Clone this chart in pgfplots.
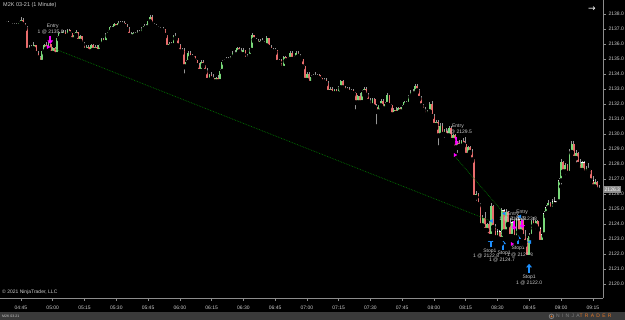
\documentclass[border=0pt]{standalone}
\usepackage{fontspec}
\setmainfont{Liberation Sans}
\newfontfamily\dejavu{DejaVu Sans}
\newfontfamily\logofont[LetterSpace=45]{Liberation Sans}
\usepackage{pgfplots}
\usepackage{pgfplotstable}
\pgfplotsset{compat=1.18}
\usetikzlibrary{arrows.meta}
\definecolor{upc}{RGB}{120,215,120}
\definecolor{dnc}{RGB}{232,108,108}
\definecolor{wickc}{RGB}{150,150,150}
\definecolor{axc}{RGB}{140,140,140}
\definecolor{txtc}{RGB}{205,205,205}
\definecolor{barc}{RGB}{58,58,58}
\definecolor{tradeg}{RGB}{0,120,0}
\definecolor{mag}{RGB}{255,0,255}
\definecolor{blu}{RGB}{30,144,255}
\definecolor{ntorange}{RGB}{230,120,40}
\pgfplotstableread{
o h l c
2137.4 2137.5 2137.3 2137.4
2137.4 2137.5 2137.3 2137.3
2137.3 2137.4 2137.2 2137.3
2137.3 2137.4 2137.2 2137.2
2137.2 2137.4 2137.2 2137.3
2137.3 2137.4 2137.1 2137.2
2137.2 2137.5 2137.2 2137.4
2137.4 2137.8 2137.1 2137.6
2137.6 2137.7 2137.2 2137.3
2137.3 2137.4 2137.0 2137.1
2137.1 2137.2 2135.5 2135.6
2135.6 2135.9 2135.5 2135.8
2135.8 2135.9 2135.6 2135.7
2135.7 2136.1 2135.6 2135.9
2135.9 2135.9 2135.3 2135.4
2135.4 2135.5 2135.0 2135.1
2135.1 2135.2 2134.7 2134.8
2134.8 2135.6 2134.7 2135.5
2135.5 2136.0 2135.4 2135.9
2135.9 2136.1 2135.6 2135.7
2135.7 2136.1 2135.6 2136.0
2136.0 2136.0 2135.3 2135.4
2135.4 2135.8 2135.2 2135.7
2135.7 2135.8 2135.1 2135.3
2135.3 2136.5 2135.3 2136.4
2136.4 2136.8 2136.3 2136.7
2136.7 2136.8 2136.5 2136.6
2136.6 2136.9 2136.5 2136.8
2136.8 2136.9 2136.4 2136.5
2136.5 2137.0 2136.5 2136.9
2136.9 2137.0 2136.6 2136.7
2136.7 2136.8 2136.2 2136.3
2136.3 2136.7 2136.2 2136.6
2136.6 2136.9 2136.5 2136.8
2136.8 2136.8 2136.1 2136.2
2136.2 2136.6 2136.1 2136.5
2136.5 2136.5 2135.9 2136.0
2136.0 2136.1 2135.5 2135.6
2135.6 2135.9 2135.5 2135.8
2135.8 2135.9 2135.4 2135.5
2135.5 2136.0 2135.4 2135.9
2135.9 2136.0 2135.5 2135.6
2135.6 2135.9 2135.5 2135.8
2135.8 2135.9 2135.4 2135.5
2135.5 2136.0 2135.5 2135.9
2135.9 2136.4 2135.8 2136.3
2136.3 2136.4 2136.0 2136.1
2136.1 2136.7 2136.1 2136.6
2136.6 2136.9 2136.5 2136.8
2136.8 2137.2 2136.7 2137.1
2137.1 2137.2 2136.9 2137.0
2137.0 2137.4 2137.0 2137.3
2137.3 2137.3 2137.0 2137.1
2137.1 2137.5 2137.1 2137.4
2137.4 2137.5 2137.2 2137.3
2137.3 2137.5 2137.2 2137.4
2137.4 2137.5 2137.1 2137.2
2137.2 2137.3 2136.9 2137.0
2137.0 2137.1 2136.5 2136.6
2136.6 2136.8 2136.4 2136.5
2136.5 2136.8 2136.4 2136.7
2136.7 2136.8 2136.5 2136.6
2136.6 2136.9 2136.5 2136.8
2136.8 2136.9 2136.6 2136.7
2136.7 2137.1 2136.6 2137.0
2137.0 2137.3 2136.9 2137.2
2137.2 2137.3 2137.0 2137.1
2137.1 2137.6 2137.0 2137.5
2137.5 2137.9 2137.3 2137.8
2137.8 2137.9 2137.2 2137.3
2137.3 2137.4 2137.1 2137.2
2137.2 2137.3 2137.0 2137.1
2137.1 2137.2 2136.9 2137.0
2137.0 2137.1 2136.8 2136.9
2136.9 2137.1 2136.8 2137.0
2137.0 2137.0 2136.5 2136.6
2136.6 2136.6 2135.7 2135.8
2135.8 2136.1 2135.7 2136.0
2136.0 2136.1 2135.8 2135.9
2135.9 2136.6 2135.8 2136.5
2136.5 2136.7 2136.3 2136.4
2136.4 2136.4 2135.8 2135.9
2135.9 2136.0 2135.4 2135.5
2135.5 2135.7 2135.4 2135.6
2135.6 2135.7 2133.9 2134.5
2134.5 2134.9 2134.4 2134.8
2134.8 2135.5 2134.7 2135.4
2135.4 2135.5 2135.0 2135.1
2135.1 2135.3 2134.8 2135.2
2135.2 2135.2 2134.8 2134.9
2134.9 2135.0 2134.5 2134.6
2134.6 2134.7 2134.1 2134.2
2134.2 2134.9 2134.1 2134.8
2134.8 2134.9 2134.5 2134.6
2134.6 2134.6 2134.1 2134.2
2134.2 2134.4 2133.5 2133.6
2133.6 2134.0 2133.5 2133.9
2133.9 2134.1 2133.6 2133.7
2133.7 2134.0 2133.3 2133.5
2133.5 2133.8 2133.3 2133.7
2133.7 2133.9 2133.4 2133.5
2133.5 2134.3 2133.5 2134.2
2134.2 2134.9 2134.1 2134.8
2134.8 2135.0 2134.7 2134.9
2134.9 2135.1 2134.8 2135.0
2135.0 2135.1 2134.8 2134.9
2134.9 2135.2 2134.8 2135.1
2135.1 2135.5 2135.0 2135.4
2135.4 2135.6 2135.2 2135.3
2135.3 2135.8 2135.2 2135.7
2135.7 2135.8 2135.4 2135.5
2135.5 2135.7 2135.2 2135.3
2135.3 2135.7 2135.3 2135.6
2135.6 2135.6 2134.9 2135.0
2135.0 2135.3 2134.8 2135.2
2135.2 2135.7 2135.1 2135.6
2135.6 2136.7 2135.5 2136.6
2136.6 2136.6 2136.2 2136.3
2136.3 2136.4 2136.1 2136.2
2136.2 2136.3 2135.9 2136.0
2136.0 2136.3 2135.9 2136.2
2136.2 2136.4 2136.0 2136.1
2136.1 2136.2 2135.8 2135.9
2135.9 2136.5 2135.8 2136.4
2136.4 2136.4 2135.7 2135.8
2135.8 2135.9 2135.5 2135.6
2135.6 2135.7 2135.4 2135.5
2135.5 2135.7 2135.4 2135.6
2135.6 2135.6 2134.7 2134.8
2134.8 2135.0 2134.6 2134.9
2134.9 2135.0 2134.3 2134.4
2134.4 2135.2 2134.3 2135.1
2135.1 2135.2 2134.8 2134.9
2134.9 2135.1 2134.7 2135.0
2135.0 2135.5 2134.9 2135.4
2135.4 2135.5 2134.9 2135.0
2135.0 2135.2 2134.8 2135.1
2135.1 2135.5 2135.0 2135.4
2135.4 2135.5 2135.1 2135.2
2135.2 2135.3 2134.9 2135.0
2135.0 2135.0 2134.4 2134.5
2134.5 2134.6 2133.5 2133.6
2133.6 2134.1 2133.5 2134.0
2134.0 2134.1 2133.3 2133.4
2133.4 2133.9 2133.3 2133.8
2133.8 2134.0 2133.6 2133.9
2133.9 2134.1 2133.7 2133.8
2133.8 2134.0 2133.7 2133.9
2133.9 2134.0 2133.6 2133.7
2133.7 2133.8 2133.4 2133.5
2133.5 2133.7 2133.4 2133.6
2133.6 2133.7 2133.3 2133.4
2133.4 2133.5 2132.7 2132.8
2132.8 2133.1 2132.6 2133.0
2133.0 2133.1 2132.6 2132.7
2132.7 2133.0 2132.6 2132.9
2132.9 2133.0 2132.6 2132.7
2132.7 2133.2 2132.6 2133.1
2133.1 2133.6 2133.0 2133.5
2133.5 2133.6 2133.0 2133.1
2133.1 2133.2 2132.8 2132.9
2132.9 2133.1 2132.8 2133.0
2133.0 2133.1 2132.7 2132.8
2132.8 2133.0 2132.7 2132.9
2132.9 2133.0 2132.6 2132.7
2132.7 2132.8 2131.5 2132.1
2132.1 2132.6 2132.0 2132.5
2132.5 2132.7 2132.0 2132.1
2132.1 2132.9 2132.1 2132.8
2132.8 2133.1 2132.6 2133.0
2133.0 2133.1 2132.5 2132.6
2132.6 2132.7 2132.1 2132.2
2132.2 2132.4 2131.8 2131.9
2131.9 2132.4 2131.8 2132.3
2132.3 2132.4 2131.7 2131.8
2131.8 2132.0 2130.5 2131.5
2131.5 2132.0 2131.4 2131.9
2131.9 2132.3 2131.8 2132.2
2132.2 2132.3 2131.6 2131.7
2131.7 2132.1 2131.6 2132.0
2132.0 2132.7 2131.9 2132.6
2132.6 2132.6 2131.8 2131.9
2131.9 2132.0 2131.1 2131.3
2131.3 2131.7 2131.1 2131.6
2131.6 2131.8 2131.2 2131.4
2131.4 2131.8 2131.3 2131.7
2131.7 2131.8 2131.4 2131.5
2131.5 2131.9 2131.4 2131.8
2131.8 2132.2 2131.7 2132.1
2132.1 2132.2 2131.9 2132.0
2132.0 2132.6 2131.9 2132.5
2132.5 2132.9 2132.4 2132.8
2132.8 2133.0 2132.6 2132.7
2132.7 2133.3 2132.6 2133.2
2133.2 2133.3 2132.8 2132.9
2132.9 2133.0 2132.3 2132.4
2132.4 2132.5 2131.8 2131.9
2131.9 2132.0 2131.5 2131.6
2131.6 2131.8 2131.1 2131.3
2131.3 2131.6 2131.1 2131.5
2131.5 2132.1 2131.4 2132.0
2132.0 2132.2 2131.1 2131.2
2131.2 2131.3 2130.5 2130.6
2130.6 2130.9 2130.4 2130.8
2130.8 2130.9 2129.1 2129.9
2129.9 2130.7 2129.8 2130.5
2130.5 2130.7 2129.9 2130.0
2130.0 2130.3 2129.6 2130.2
2130.2 2130.4 2129.8 2129.9
2129.9 2130.5 2129.8 2130.4
2130.4 2130.5 2129.5 2129.6
2129.6 2130.0 2129.4 2129.9
2129.9 2130.0 2129.0 2129.1
2129.1 2129.5 2128.6 2129.4
2129.4 2129.6 2129.1 2129.2
2129.2 2129.6 2129.0 2129.5
2129.5 2129.7 2129.2 2129.3
2129.3 2129.8 2128.5 2128.6
2128.6 2129.2 2128.5 2129.1
2129.1 2129.2 2128.7 2128.8
2128.8 2129.0 2128.2 2128.3
2128.3 2128.3 2125.6 2125.8
2125.8 2126.2 2125.4 2126.0
2126.0 2126.1 2125.2 2125.3
2125.3 2125.4 2123.7 2123.9
2123.9 2124.6 2123.6 2124.4
2124.4 2124.8 2123.4 2123.6
2123.6 2124.1 2123.3 2124.0
2124.0 2124.2 2123.0 2123.2
2123.2 2125.4 2123.0 2125.2
2125.2 2125.3 2123.6 2123.8
2123.8 2124.0 2122.9 2123.1
2123.1 2123.7 2122.9 2123.5
2123.5 2123.6 2122.9 2123.0
2123.0 2125.1 2122.7 2124.9
2124.9 2125.0 2123.3 2123.5
2123.5 2125.0 2123.4 2124.8
2124.8 2124.9 2123.9 2124.0
2124.0 2124.4 2123.0 2123.2
2123.2 2124.2 2123.0 2124.1
2124.1 2124.3 2122.9 2123.1
2123.1 2124.4 2123.0 2124.3
2124.3 2124.6 2123.4 2123.5
2123.5 2124.4 2123.3 2124.2
2124.2 2124.3 2123.1 2123.2
2123.2 2123.6 2122.6 2122.8
2122.8 2123.1 2121.5 2121.8
2121.8 2123.4 2121.6 2123.2
2123.2 2124.3 2123.0 2124.2
2124.2 2124.5 2123.7 2123.9
2123.9 2124.3 2123.5 2124.2
2124.2 2124.3 2123.6 2123.7
2123.7 2123.8 2122.5 2122.8
2122.8 2123.4 2122.6 2123.3
2123.3 2124.9 2123.2 2124.7
2124.7 2125.3 2124.5 2125.1
2125.1 2125.6 2124.8 2125.4
2125.4 2125.5 2124.9 2125.0
2125.0 2125.7 2124.9 2125.5
2125.5 2125.8 2125.2 2125.3
2125.3 2125.6 2125.1 2125.5
2125.5 2127.1 2125.4 2126.9
2126.9 2128.3 2126.5 2128.1
2128.1 2128.2 2127.3 2127.5
2127.5 2128.1 2127.1 2127.9
2127.9 2128.0 2127.2 2127.4
2127.4 2129.0 2127.3 2128.8
2128.8 2129.5 2128.7 2129.3
2129.3 2129.5 2128.2 2128.4
2128.4 2128.9 2127.9 2128.7
2128.7 2128.8 2127.8 2128.0
2128.0 2128.3 2127.4 2127.6
2127.6 2128.2 2127.5 2128.1
2128.1 2128.2 2127.3 2127.4
2127.4 2127.9 2127.2 2127.7
2127.7 2128.1 2127.4 2127.6
2127.6 2127.7 2126.8 2126.9
2126.9 2127.2 2126.4 2126.5
2126.5 2127.0 2126.4 2126.8
2126.8 2126.9 2126.2 2126.3
2126.3 2126.6 2126.2 2126.3
}\candles
\begin{document}
\begin{tikzpicture}
\fill[black] (0pt,0pt) rectangle (625pt,320pt);
\fill[barc] (0pt,0pt) rectangle (625pt,7.5pt);
\begin{axis}[
  at={(0pt,22pt)}, anchor=south west, scale only axis,
  width=603pt, height=298pt,
  xmin=35.1, xmax=319.8, ymin=2119.07, ymax=2138.93,
  axis x line*=bottom, axis y line*=right,
  axis line style={axc, line width=0.8pt, -},
  tick align=outside, major tick length=3pt,
  tick style={axc, line width=0.6pt},
  xtick={45,60,...,315},
  xticklabels={04:45,05:00,05:15,05:30,05:45,06:00,06:15,06:30,06:45,07:00,07:15,07:30,07:45,08:00,08:15,08:30,08:45,09:00,09:15},
  ytick={2120,2121,...,2138},
  /pgf/number format/assume math mode=true,
  yticklabel style={/pgf/number format/fixed, /pgf/number format/fixed zerofill, /pgf/number format/precision=1, /pgf/number format/1000 sep={}, anchor=west, xshift=-1pt},
  ticklabel style={font=\fontsize{5}{6}\selectfont, text=txtc},
  xticklabel style={yshift=-1pt},
  clip=false,
  error bars/error mark=none,
]
% wicks
\addplot[only marks, mark=none, error bars/.cd, y dir=plus, y explicit,
  error bar style={wickc, line width=0.6pt}]
  table[x expr=\coordindex+38, y=l, y error plus expr=\thisrow{h}-\thisrow{l}] {\candles};
% white body outline
\addplot[only marks, mark=none, error bars/.cd, y dir=plus, y explicit,
  error bar style={white, line width=1.8pt}]
  table[x expr=\coordindex+38, y expr={min(\thisrow{o},\thisrow{c})-0.025}, y error plus expr={abs(\thisrow{c}-\thisrow{o})+0.05}] {\candles};
% up bodies
\addplot[only marks, mark=none, restrict expr to domain={\thisrow{c}-\thisrow{o}}{0.01:100},
  error bars/.cd, y dir=plus, y explicit,
  error bar style={upc, line width=1.8pt}]
  table[x expr=\coordindex+38, y=o, y error plus expr=\thisrow{c}-\thisrow{o}] {\candles};
% down bodies
\addplot[only marks, mark=none, restrict expr to domain={\thisrow{o}-\thisrow{c}}{0.01:100},
  error bars/.cd, y dir=plus, y explicit,
  error bar style={dnc, line width=1.8pt}]
  table[x expr=\coordindex+38, y=c, y error plus expr=\thisrow{o}-\thisrow{c}] {\candles};
% trade lines
\addplot[tradeg, densely dotted, line width=0.7pt] coordinates {(61.1,2135.66) (266.9,2124.2)};
\addplot[tradeg, densely dotted, line width=0.7pt] coordinates {(249.9,2128.5) (273.1,2124.7)};
% entry markers
\addplot[only marks, mag, mark=triangle*, mark size=1.8pt, mark options={rotate=-90}] coordinates {(57.8,2135.8) (249.9,2128.6) (276.8,2122.67)};
% exit markers
\addplot[only marks, blu, mark=triangle*, mark size=1.8pt, mark options={rotate=90}] coordinates {(267.3,2124.2) (273.2,2124.7) (280.6,2124.5) (285.3,2122.8)};
% arrows
\addplot[mag, line width=1.7pt, -{Triangle[width=5.5pt,length=3.5pt]}] coordinates {(58.85,2136.55) (58.85,2136.0)};
\addplot[mag, line width=1.7pt, -{Triangle[width=5.5pt,length=3.5pt]}] coordinates {(250.4,2129.8) (250.4,2129.25)};
\addplot[mag, line width=1.7pt, -{Triangle[width=5.5pt,length=3.5pt]}] coordinates {(277.9,2124.2) (277.9,2123.6)};
\addplot[mag, line width=1.7pt, -{Triangle[width=5.5pt,length=3.5pt]}] coordinates {(281.7,2124.3) (281.7,2123.7)};
\addplot[blu, line width=1.7pt, -{Triangle[width=5.5pt,length=3.5pt]}] coordinates {(266.8,2122.45) (266.8,2123.05)};
\addplot[blu, line width=1.7pt, -{Triangle[width=5.5pt,length=3.5pt]}] coordinates {(272.7,2122.3) (272.7,2122.9)};
\addplot[blu, line width=1.7pt, -{Triangle[width=5.5pt,length=3.5pt]}] coordinates {(279.8,2122.65) (279.8,2123.25)};
\addplot[blu, line width=1.7pt, -{Triangle[width=5.5pt,length=3.5pt]}] coordinates {(284.9,2120.75) (284.9,2121.35)};
% labels
\begin{scope}[every node/.style={font=\fontsize{5}{6}\selectfont, text=txtc, inner sep=0pt}]
\node at (axis cs:60,2137.2) {Entry};
\node at (axis cs:59,2136.8) {1 @ 2135.8};
\node at (axis cs:251.3,2130.5) {Entry};
\node at (axis cs:251.8,2130.1) {1 @ 2129.5};
\node at (axis cs:277.3,2124.66) {Entry};
\node at (axis cs:281.6,2124.8) {Entry};
\node at (axis cs:277,2124.33) {1 @ 2124.5};
\node at (axis cs:282.5,2124.33) {1 @ 2123.8};
\node at (axis cs:266.4,2122.2) {Stop1};
\node at (axis cs:264.6,2121.86) {1 @ 2122.8};
\node at (axis cs:273.1,2122.07) {Stop1};
\node at (axis cs:272.1,2121.6) {1 @ 2124.7};
\node at (axis cs:279.7,2122.4) {Stop1};
\node at (axis cs:280.6,2121.96) {1 @ 2123.8};
\node at (axis cs:284.9,2120.44) {Stop1};
\node at (axis cs:284.9,2120.1) {1 @ 2122.0};
\end{scope}
\node[anchor=west, fill={rgb,255:red,140;green,140;blue,140}, text=white, font=\fontsize{5}{6}\selectfont, inner xsep=1.5pt, inner ysep=1.5pt] at (axis cs:319.8,2126.3) {2126.3};
\end{axis}
\node[anchor=west, font=\fontsize{5.5}{6.5}\selectfont, text=txtc, inner sep=0pt] at (3pt,315pt) {M2K 03-21 (1 Minute)};
\node[anchor=west, font=\fontsize{5}{6}\selectfont, text=txtc, inner sep=0pt] at (2pt,28pt) {\textcopyright{} 2021 NinjaTrader, LLC};
\node[font=\dejavu\fontsize{9}{10}\selectfont, text=white, inner sep=0pt] at (592pt,311pt) {→};
\node[anchor=west, font=\fontsize{3.5}{4}\selectfont, text=txtc, inner sep=0pt] at (2pt,3.7pt) {M2K 03-21};
\draw[gray, line width=0.8pt] (551.5pt,3.7pt) circle (2.3pt);
\fill[ntorange] (551.5pt,3.7pt) circle (1pt);
\node[anchor=west, font=\logofont\fontsize{5}{6}\selectfont, inner sep=0pt] at (556pt,3.7pt) {\textcolor{gray}{NINJA}\textcolor{ntorange}{TRADER}};
\pgfresetboundingbox
\useasboundingbox (0pt,0pt) rectangle (625pt,320pt);
\end{tikzpicture}
\end{document}
